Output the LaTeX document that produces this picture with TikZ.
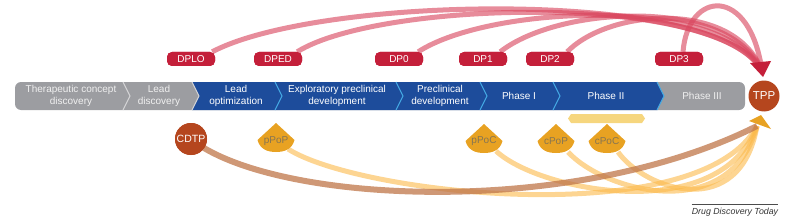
\documentclass[tikz,border=0pt]{standalone}
\usepackage{fontspec}
\setmainfont{Liberation Sans}
\definecolor{bargray}{HTML}{9C9DA1}
\definecolor{barblue}{HTML}{1D4C9B}
\definecolor{sepblue}{HTML}{45ACE6}
\definecolor{sepgray}{HTML}{D6D6D8}
\definecolor{dpred}{HTML}{C41F3A}
\definecolor{arcred}{HTML}{D9465E}
\definecolor{tppbrown}{HTML}{B5461E}
\definecolor{markorange}{HTML}{E8A222}
\definecolor{marktxt}{HTML}{857553}
\definecolor{arcorange}{HTML}{FBB94A}
\definecolor{arcbrown}{HTML}{BF7548}
\definecolor{yellowband}{HTML}{F6D67E}
\newcommand\mkshape[2]{%
  \fill[markorange] (#1,#2) ++(0,-17) -- ++(18.5,17)
    .. controls +(-2.5,9) and +(9,0) .. ++(-18.5,12)
    .. controls +(-9,0) and +(2.5,9) .. ++(-18.5,-12) -- cycle;}
\begin{document}
\begin{tikzpicture}[x=1pt,y=-1pt,
  bartext/.style={font=\fontsize{10}{12.5}\selectfont, align=center, text=white, inner sep=0pt},
  graytext/.style={bartext, text=black!6},
  dpbox/.style={fill=dpred, rounded corners=5pt, minimum width=48pt, minimum height=14pt, inner sep=0pt, text=white, font=\fontsize{10}{12}\selectfont},
  redarc/.style={draw=arcred, line width=5pt, opacity=0.62},
  orgarc/.style={draw=arcorange, line width=5pt, opacity=0.6},
  brnarc/.style={draw=arcbrown, line width=6pt, opacity=0.75},
  roundnode/.style={circle, fill=tppbrown, text=white, inner sep=0pt},
  marktext/.style={text=marktxt, inner sep=0pt, font=\fontsize{10}{12}\selectfont},
  sepline/.style={line width=1.1pt}
]
\useasboundingbox (0,0) rectangle (800,222);
% ---- bar ----
\fill[bargray, rounded corners=6pt] (15,82) rectangle (745,110);
\fill[barblue] (192,82) -- (657,82) -- (664,96) -- (657,110) -- (192,110) -- (199,96) -- cycle;
\draw[sepline, sepgray] (123,82) -- (130,96) -- (123,110);
\draw[sepline, sepgray] (192,82) -- (199,96) -- (192,110);
\foreach \b in {275,396,480,553,657}
  \draw[sepline, sepblue] (\b,82) -- (\b+7,96) -- (\b,110);
\node[graytext] (tcd) at (71,96) {Therapeutic concept\\discovery};
\node[graytext] (ld) at (159,96) {Lead\\discovery};
\node[bartext] (lo) at (236,96) {Lead\\optimization};
\node[bartext] (epd) at (337,96) {Exploratory preclinical\\development};
\node[bartext] (pd) at (440,96) {Preclinical\\development};
\node[bartext] (p1) at (519,96) {Phase I};
\node[bartext] (p2) at (606,96) {Phase II};
\node[graytext] (p3) at (702,96) {Phase III};
\node[roundnode, minimum size=31pt, font=\fontsize{11.5}{12}\selectfont] (TPP) at (764,96) {TPP};
% ---- red arcs ----
\coordinate (redtip) at (762,71);
\node[dpbox] (DPLO) at (191,59) {DPLO};
\node[dpbox] (DPED) at (278,59) {DPED};
\node[dpbox] (DP0) at (399,59) {DP0};
\node[dpbox] (DP1) at (483,59) {DP1};
\node[dpbox] (DP2) at (550,59) {DP2};
\node[dpbox] (DP3) at (679,59) {DP3};
\draw[redarc] ([xshift=-3pt]DPLO.north east) .. controls (320,-5) and (720,-12) .. (redtip);
\draw[redarc] ([xshift=-5pt]DPED.north east) .. controls (380,0) and (720,-8) .. (redtip);
\draw[redarc] ([xshift=-5pt]DP0.north east) .. controls (490,5) and (725,-5) .. (redtip);
\draw[redarc] ([xshift=-7pt]DP1.north east) .. controls (560,5) and (730,-3) .. (redtip);
\draw[redarc] ([xshift=-7pt]DP2.north east) .. controls (610,8) and (735,0) .. (redtip);
\draw[redarc] ([xshift=4pt]DP3.north) .. controls (688,-10) and (750,-15) .. (redtip);
\foreach \n in {DPLO,DPED,DP0,DP1,DP2,DP3}
  \node[dpbox] at (\n) {\n};
\fill[dpred] (750,63) -- (771,61) -- (763,77) -- cycle;
% ---- bottom ----
\fill[yellowband] (568,118.5) -- (571,114) -- (642,114) -- (645,118.5) -- (642,123) -- (571,123) -- cycle;
\coordinate (orgtip) at (757,126);
\node[marktext] (pPoP) at (276,141) {pPoP};
\node[marktext] (pPoC) at (484,141) {pPoC};
\node[marktext] (cPoP) at (556,141) {cPoP};
\node[marktext] (cPoC) at (607,141) {cPoC};
\draw[orgarc] (288,149) .. controls (360,195) and (700,232) .. (orgtip);
\draw[orgarc] (496,151) .. controls (540,192) and (720,226) .. (orgtip);
\draw[orgarc] (568,152) .. controls (605,192) and (730,225) .. (orgtip);
\draw[orgarc] (618,152) .. controls (645,190) and (740,222) .. (orgtip);
\node[roundnode, minimum size=32pt, font=\fontsize{10.5}{12}\selectfont] (CDTP) at (191,139) {CDTP};
\draw[brnarc] (204,148) .. controls (300,205) and (580,215) .. (orgtip);
\node[roundnode, minimum size=32pt, font=\fontsize{10.5}{12}\selectfont] at (CDTP) {CDTP};
\mkshape{276}{140}
\mkshape{484}{141}
\mkshape{556}{141}
\mkshape{607}{141}
\node[marktext] at (pPoP) {pPoP};
\node[marktext] at (pPoC) {pPoC};
\node[marktext] at (cPoP) {cPoP};
\node[marktext] at (cPoC) {cPoC};
\fill[markorange] (749,121) -- (761,115) -- (771,129) -- cycle;
% ---- credit ----
\node[font=\itshape\fontsize{8.8}{10}\selectfont, text=black!80, inner sep=0pt] (credit) at (735,212) {Drug Discovery Today};
\draw[line width=0.5pt, black!70] (credit.north west) ++(0,-3) -- ([yshift=3pt]credit.north east);
\end{tikzpicture}
\end{document}
